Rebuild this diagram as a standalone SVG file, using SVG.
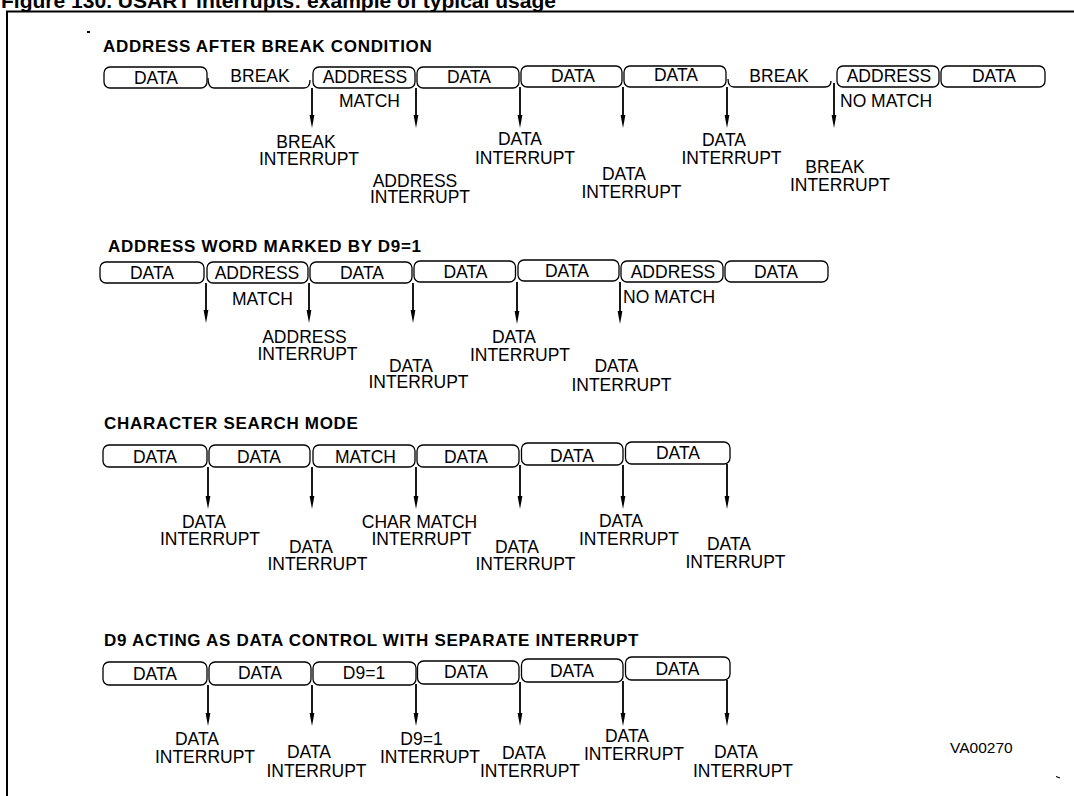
<svg xmlns="http://www.w3.org/2000/svg" width="1074" height="796" viewBox="0 0 1074 796">
<defs>
<marker id="ah" markerUnits="userSpaceOnUse" markerWidth="13" markerHeight="6" viewBox="0 0 13 6" refX="6" refY="3" orient="auto">
<path d="M0,0.6 L13,3 L0,5.4 Z" fill="#000"/>
</marker>
<style>
.b{fill:none;stroke:#000;stroke-width:1.3}
.t{font-family:"Liberation Sans",Arial,Helvetica,sans-serif;font-size:17.5px;fill:#000}
.m{text-anchor:middle}
.h{font-family:"Liberation Sans",Arial,Helvetica,sans-serif;font-weight:bold;font-size:17px;letter-spacing:0.7px;fill:#000}
.a{stroke:#000;stroke-width:1.8;fill:none;marker-end:url(#ah)}
</style>
</defs>
<rect width="1074" height="796" fill="#fff"/>
<g id="frame">
<text x="1" y="7.5" font-family="'Liberation Sans',Arial,sans-serif" font-weight="bold" font-size="20" textLength="555" lengthAdjust="spacingAndGlyphs">Figure 130. USART interrupts: example of typical usage</text>
<line x1="6" y1="11.5" x2="1074" y2="11.5" stroke="#000" stroke-width="2"/>
<line x1="7" y1="11" x2="7" y2="796" stroke="#000" stroke-width="2"/>
<rect x="87" y="31" width="3" height="2" fill="#000"/>
<line x1="1056" y1="776.5" x2="1060" y2="778" stroke="#000" stroke-width="1.2"/>
</g>

<!-- Section 1 -->
<text class="h" x="103" y="52">ADDRESS AFTER BREAK CONDITION</text>
<g id="r1-data1"><rect class="b" x="104" y="67" width="103" height="21" rx="6"/><text class="t m" x="156" y="83.5">DATA</text></g>
<g id="r1-break1"><path class="b" d="M208,78 Q208,88 214,88 L304,88 Q310,88 310,80"/><text class="t m" x="260" y="81.5">BREAK</text></g>
<g id="r1-addr1"><rect class="b" x="313" y="67" width="102" height="21" rx="6"/><text class="t m" x="365" y="83">ADDRESS</text></g>
<g id="r1-data2"><rect class="b" x="417" y="67" width="102" height="21" rx="6"/><text class="t m" x="469" y="83">DATA</text></g>
<g id="r1-data3"><rect class="b" x="521" y="66" width="101" height="21" rx="6"/><text class="t m" x="573" y="82">DATA</text></g>
<g id="r1-data4"><rect class="b" x="624" y="66" width="102" height="21" rx="6"/><text class="t m" x="676" y="81">DATA</text></g>
<g id="r1-break2"><path class="b" d="M728,79 Q728,87 734,87 L825,87 Q831,87 831,81"/><text class="t m" x="779" y="81.5">BREAK</text></g>
<g id="r1-addr2"><rect class="b" x="837" y="66" width="102" height="21" rx="6"/><text class="t m" x="889" y="82">ADDRESS</text></g>
<g id="r1-data5"><rect class="b" x="941" y="66" width="104" height="21" rx="6"/><text class="t m" x="994" y="82">DATA</text></g>
<g id="r1-match"><text class="t m" x="369.5" y="106.5">MATCH</text></g>
<g id="r1-nomatch"><text class="t" x="840" y="107">NO MATCH</text></g>
<g id="r1-l1"><text class="t m" x="306" y="148">BREAK</text><text class="t m" x="309" y="165">INTERRUPT</text></g>
<g id="r1-l2"><text class="t m" x="415" y="186.5">ADDRESS</text><text class="t m" x="420" y="203">INTERRUPT</text></g>
<g id="r1-l3"><text class="t m" x="520" y="145">DATA</text><text class="t m" x="525" y="164">INTERRUPT</text></g>
<g id="r1-l4"><text class="t m" x="624" y="180">DATA</text><text class="t m" x="631.5" y="198">INTERRUPT</text></g>
<g id="r1-l5"><text class="t m" x="724" y="145.5">DATA</text><text class="t m" x="731.5" y="164">INTERRUPT</text></g>
<g id="r1-l6"><text class="t m" x="835" y="173">BREAK</text><text class="t m" x="840" y="191">INTERRUPT</text></g>

<!-- Section 2 -->
<text class="h" x="108" y="252">ADDRESS WORD MARKED BY D9=1</text>
<g id="r2-data1"><rect class="b" x="100" y="262" width="104" height="21" rx="6"/><text class="t m" x="152" y="279">DATA</text></g>
<g id="r2-addr1"><rect class="b" x="207" y="262" width="101" height="21" rx="6"/><text class="t m" x="257" y="279">ADDRESS</text></g>
<g id="r2-data2"><rect class="b" x="310" y="262" width="102" height="21" rx="6"/><text class="t m" x="362" y="279">DATA</text></g>
<g id="r2-data3"><rect class="b" x="414" y="261" width="101.5" height="21" rx="6"/><text class="t m" x="465.5" y="278">DATA</text></g>
<g id="r2-data4"><rect class="b" x="518" y="260" width="101" height="21" rx="6"/><text class="t m" x="567" y="277">DATA</text></g>
<g id="r2-addr2"><rect class="b" x="621" y="261" width="102" height="21" rx="6"/><text class="t m" x="673" y="278">ADDRESS</text></g>
<g id="r2-data5"><rect class="b" x="725" y="261" width="103" height="21" rx="6"/><text class="t m" x="776" y="278">DATA</text></g>
<g id="r2-match"><text class="t m" x="262.5" y="305">MATCH</text></g>
<g id="r2-nomatch"><text class="t" x="623" y="303">NO MATCH</text></g>
<g id="r2-l1"><text class="t m" x="304.5" y="343">ADDRESS</text><text class="t m" x="307.5" y="360">INTERRUPT</text></g>
<g id="r2-l2"><text class="t m" x="411" y="372">DATA</text><text class="t m" x="418.5" y="388">INTERRUPT</text></g>
<g id="r2-l3"><text class="t m" x="514" y="343">DATA</text><text class="t m" x="520" y="360.5">INTERRUPT</text></g>
<g id="r2-l4"><text class="t m" x="616.5" y="372">DATA</text><text class="t m" x="621.5" y="391">INTERRUPT</text></g>

<!-- Section 3 -->
<text class="h" x="104" y="429">CHARACTER SEARCH MODE</text>
<g id="r3-data1"><rect class="b" x="103" y="445" width="104" height="22" rx="6"/><text class="t m" x="155" y="463">DATA</text></g>
<g id="r3-data2"><rect class="b" x="209" y="445" width="101" height="22" rx="6"/><text class="t m" x="259" y="463">DATA</text></g>
<g id="r3-match"><rect class="b" x="313" y="445" width="102" height="22" rx="6"/><text class="t m" x="365.5" y="463">MATCH</text></g>
<g id="r3-data3"><rect class="b" x="417" y="445" width="102" height="22" rx="6"/><text class="t m" x="466" y="463">DATA</text></g>
<g id="r3-data4"><rect class="b" x="521.5" y="443" width="101.5" height="22" rx="6"/><text class="t m" x="572" y="461.5">DATA</text></g>
<g id="r3-data5"><rect class="b" x="625.5" y="442" width="104.5" height="22" rx="6"/><text class="t m" x="678" y="458.5">DATA</text></g>
<g id="r3-l1"><text class="t m" x="204" y="528">DATA</text><text class="t m" x="210" y="545">INTERRUPT</text></g>
<g id="r3-l2"><text class="t m" x="311" y="553">DATA</text><text class="t m" x="317.5" y="570">INTERRUPT</text></g>
<g id="r3-l3"><text class="t m" x="419.5" y="528">CHAR MATCH</text><text class="t m" x="421.5" y="545">INTERRUPT</text></g>
<g id="r3-l4"><text class="t m" x="517" y="553">DATA</text><text class="t m" x="525.5" y="570">INTERRUPT</text></g>
<g id="r3-l5"><text class="t m" x="621" y="527">DATA</text><text class="t m" x="629" y="545">INTERRUPT</text></g>
<g id="r3-l6"><text class="t m" x="729" y="550">DATA</text><text class="t m" x="735.5" y="568">INTERRUPT</text></g>

<!-- Section 4 -->
<text class="h" x="104" y="646">D9 ACTING AS DATA CONTROL WITH SEPARATE INTERRUPT</text>
<g id="r4-data1"><rect class="b" x="103" y="662" width="104" height="23" rx="6"/><text class="t m" x="155" y="680">DATA</text></g>
<g id="r4-data2"><rect class="b" x="209" y="662" width="102" height="23" rx="6"/><text class="t m" x="260" y="678.5">DATA</text></g>
<g id="r4-d91"><rect class="b" x="313" y="662" width="103" height="23" rx="6"/><text class="t m" x="364" y="679">D9=1</text></g>
<g id="r4-data3"><rect class="b" x="417.5" y="661" width="101.5" height="23" rx="6"/><text class="t m" x="466" y="678">DATA</text></g>
<g id="r4-data4"><rect class="b" x="521.5" y="659" width="101.5" height="23" rx="6"/><text class="t m" x="572" y="677">DATA</text></g>
<g id="r4-data5"><rect class="b" x="625.5" y="657" width="104.5" height="23" rx="6"/><text class="t m" x="677.5" y="675">DATA</text></g>
<g id="r4-l1"><text class="t m" x="197" y="745">DATA</text><text class="t m" x="205" y="762.5">INTERRUPT</text></g>
<g id="r4-l2"><text class="t m" x="309" y="758">DATA</text><text class="t m" x="316.5" y="776.5">INTERRUPT</text></g>
<g id="r4-l3"><text class="t m" x="421.5" y="745">D9=1</text><text class="t m" x="430" y="762.5">INTERRUPT</text></g>
<g id="r4-l4"><text class="t m" x="524" y="759">DATA</text><text class="t m" x="530" y="776.5">INTERRUPT</text></g>
<g id="r4-l5"><text class="t m" x="627" y="742">DATA</text><text class="t m" x="634" y="760">INTERRUPT</text></g>
<g id="r4-l6"><text class="t m" x="736" y="758">DATA</text><text class="t m" x="743" y="776.5">INTERRUPT</text></g>
<g id="ref"><text class="t" x="950" y="753" style="font-size:15.5px">VA00270</text></g>

<g id="connectors">
<line class="a" x1="312" y1="88" x2="312" y2="121"/>
<line class="a" x1="416" y1="88" x2="416" y2="121"/>
<line class="a" x1="520" y1="87" x2="520" y2="121"/>
<line class="a" x1="623" y1="87" x2="623" y2="121"/>
<line class="a" x1="727" y1="87" x2="727" y2="121"/>
<line class="a" x1="834" y1="83" x2="834" y2="121"/>

<line class="a" x1="206" y1="283" x2="206" y2="316"/>
<line class="a" x1="309" y1="283" x2="309" y2="316"/>
<line class="a" x1="413" y1="283" x2="413" y2="316"/>
<line class="a" x1="517" y1="282" x2="517" y2="317"/>
<line class="a" x1="620" y1="282" x2="620" y2="317"/>

<line class="a" x1="208" y1="467" x2="208" y2="502"/>
<line class="a" x1="312" y1="467" x2="312" y2="502"/>
<line class="a" x1="416" y1="467" x2="416" y2="502"/>
<line class="a" x1="520" y1="465" x2="520" y2="502"/>
<line class="a" x1="623" y1="465" x2="623" y2="502"/>
<line class="a" x1="727" y1="464" x2="727" y2="502"/>

<line class="a" x1="208" y1="685" x2="208" y2="719"/>
<line class="a" x1="312" y1="685" x2="312" y2="719"/>
<line class="a" x1="416" y1="684" x2="416" y2="719"/>
<line class="a" x1="520" y1="682" x2="520" y2="719"/>
<line class="a" x1="623" y1="681" x2="623" y2="719"/>
<line class="a" x1="727" y1="680" x2="727" y2="719"/>
</g>
</svg>
